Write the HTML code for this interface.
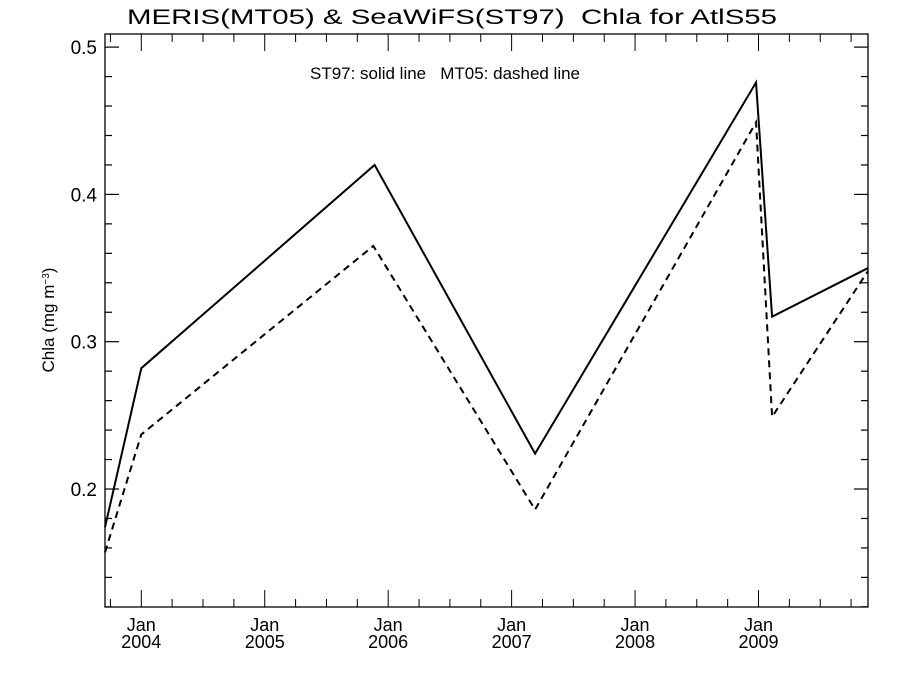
<!DOCTYPE html>
<html><head><meta charset="utf-8"><style>
html,body{margin:0;padding:0;background:#fff;}
svg{display:block;font-family:"Liberation Sans",sans-serif;}
text{white-space:pre;}
</style></head><body>
<svg id="chart" width="900" height="675" xmlns="http://www.w3.org/2000/svg">
<text x="452" y="24" font-size="21" text-anchor="middle" textLength="650" lengthAdjust="spacingAndGlyphs">MERIS(MT05) &amp; SeaWiFS(ST97)  Chla for AtlS55</text>
<text x="445" y="79" font-size="17" text-anchor="middle" textLength="270" lengthAdjust="spacingAndGlyphs">ST97: solid line   MT05: dashed line</text>
<text transform="translate(54,320) rotate(-90)" font-size="17" text-anchor="middle">Chla (mg m<tspan baseline-shift="super" font-size="10">−3</tspan>)</text>
<g id="axes"></g>
<g id="series"></g>
</svg>
<script>
const yTicks = [0.2, 0.3, 0.4, 0.5];
const yTickLabels = ["0.2", "0.3", "0.4", "0.5"];
const xYears = [2004, 2005, 2006, 2007, 2008, 2009];
const xTickLabels = ["2004", "2005", "2006", "2007", "2008", "2009"];
const st97Dates = [2003.706, 2004.0, 2005.89, 2007.19, 2008.98, 2009.11, 2009.887];
const st97Values = [0.174, 0.282, 0.420, 0.224, 0.476, 0.317, 0.350];
const mt05Dates = [2003.706, 2004.0, 2005.88, 2007.19, 2008.98, 2009.11, 2009.887];
const mt05Values = [0.157, 0.237, 0.365, 0.186, 0.449, 0.249, 0.348];

const L=105,R=868,T=34,B=607;
const x0=2003.706,x1=2009.887,yMin=0.1199,yMax=0.5089;
function xs(d){return L+(d-x0)/(x1-x0)*(R-L);}
function ys(v){return B-(v-yMin)/(yMax-yMin)*(B-T);}
const NS="http://www.w3.org/2000/svg";
function mk(tag,attrs,parent){const e=document.createElementNS(NS,tag);for(const k in attrs)e.setAttribute(k,attrs[k]);parent.appendChild(e);return e;}
const ax=document.getElementById('axes');
const frame=mk('rect',{x:L,y:T,width:R-L,height:B-T,fill:'none',stroke:'#000','stroke-width':1.3},ax);


for(let v=0.12;v<=0.5001;v+=0.02){
  const major=yTicks.some(t=>Math.abs(t-v)<1e-6);
  const len=major?14:7;const y=ys(v);
  const t1=mk('line',{x1:L,x2:L+len,y1:y,y2:y,stroke:'#000','stroke-width':1.2},ax);
  
  
  const t2=mk('line',{x1:R,x2:R-len,y1:y,y2:y,stroke:'#000','stroke-width':1.2},ax);
  
  
}
yTicks.forEach((v,i)=>{
  const t=mk('text',{x:L-8,y:ys(v)+7,'font-size':19,'text-anchor':'end'},ax);
  t.textContent=yTickLabels[i];
  
  
});
for(let d=2003.75;d<=x1+1e-6;d+=0.25){
  const major=Math.abs(d-Math.round(d))<1e-6;
  const len=major?17:8;const x=xs(d);
  const t1=mk('line',{x1:x,x2:x,y1:B,y2:B-len,stroke:'#000','stroke-width':1},ax);
  
  
  const t2=mk('line',{x1:x,x2:x,y1:T,y2:T+len,stroke:'#000','stroke-width':1},ax);
  
  
}
xYears.forEach((yr,i)=>{
  const x=xs(yr);
  const a=mk('text',{x:x,y:B+24,'font-size':18,'text-anchor':'middle'},ax);a.textContent='Jan';
  
  
  const b=mk('text',{x:x,y:B+41,'font-size':18,'text-anchor':'middle'},ax);b.textContent=xTickLabels[i];
  
  
});
const sg=document.getElementById('series');
function line(dates,vals,dash,name){
  const p=mk('polyline',{points:dates.map((d,i)=>xs(d)+','+ys(vals[i])).join(' '),fill:'none',stroke:'#000','stroke-width':2,'stroke-dasharray':dash},sg);
  
  
}
line(st97Dates,st97Values,'none','st97-solid-line');
line(mt05Dates,mt05Values,'7,5','mt05-dashed-line');
</script>
</body></html>
